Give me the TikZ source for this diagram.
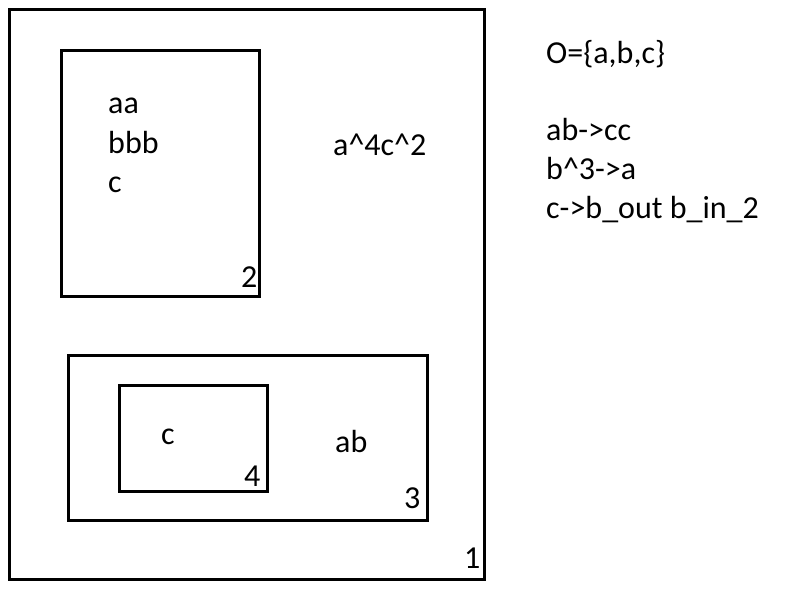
\documentclass[tikz,border=0pt]{standalone}
\usepackage{fontspec}
\setmainfont{Carlito}
\begin{document}
\begin{tikzpicture}[x=1pt,y=-1pt,
  box/.style={draw=black,line width=3pt},
  txt/.style={inner sep=0pt,anchor=base west,font=\fontsize{32}{39}\selectfont}]
\useasboundingbox (0,0) rectangle (800,600);
\fill[white] (0,0) rectangle (800,600);
% boxes
\draw[box] (9,9) rectangle (484,579) coordinate (b1);
\draw[box] (61,50) rectangle (259,296);
\draw[box] (68,355) rectangle (427,520);
\draw[box] (119,385) rectangle (267,491);
% texts in box 2
\node[txt] (aa) at (108,113) {aa};
\node[txt] (bbb) at (108,153) {bbb};
\node[txt] (c2) at (108,192) {c};
\node[txt] (n2) at (241,287) {2};
% box 1
\node[txt] (a4c2) at (333,155) {a\^{}4c\^{}2};
\node[txt] (n1) at (464,568) {1};
% box 3 and 4
\node[txt] (ab) at (335,452) {ab};
\node[txt] (n3) at (404,508) {3};
\node[txt] (c4) at (161,444) {c};
\node[txt] (n4) at (244,486) {4};
% rules
\node[txt] (O) at (546,63) {O=\{a,b,c\}};
\node[txt] (r1) at (546,140) {ab->cc};
\node[txt] (r2) at (546,179) {b\^{}3->a};
\node[txt] (r3) at (546,218) {c->b\_out b\_in\_2};
\end{tikzpicture}
\end{document}
